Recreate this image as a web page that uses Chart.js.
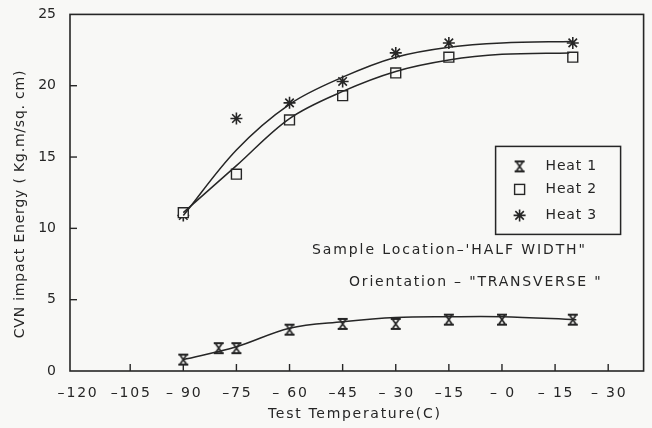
<!DOCTYPE html>
<html>
<head>
<meta charset="utf-8">
<script src="https://cdn.jsdelivr.net/npm/chart.js@4.4.0/dist/chart.umd.min.js"></script>
<style>
    html, body { margin: 0; padding: 0; background: #f8f8f6; }
</style>
</head>
<body>
<canvas id="impactChart" width="652" height="428"></canvas>
<script>
// measured points
const heat1Temps = [-90, -80, -75, -60, -45, -30, -15, 0, 20];
const heat1Values = [0.8, 1.6, 1.6, 2.9, 3.3, 3.3, 3.6, 3.6, 3.6];
const heat23Temps = [-90, -75, -60, -45, -30, -15, 20];
const heat2Values = [11.1, 13.8, 17.6, 19.3, 20.9, 22.0, 22.0];
const heat3Values = [10.9, 17.7, 18.8, 20.3, 22.3, 23.0, 23.0];

// hand drawn trend curves
const fit1Temps = [-90, -75, -60, -45, -30, -15, 0, 21];
const fit1Values = [0.8, 1.7, 3.0, 3.45, 3.75, 3.8, 3.8, 3.6];
const fit2Temps = [-90, -75, -60, -45, -30, -15, 0, 19];
const fit2Values = [11.1, 14.4, 17.7, 19.6, 21.0, 21.8, 22.2, 22.3];
const fit3Temps = [-90, -75, -60, -45, -30, -15, 0, 20];
const fit3Values = [10.9, 15.5, 18.7, 20.6, 22.0, 22.7, 23.0, 23.1];

// axes
const xTickValues = [-120, -105, -90, -75, -60, -45, -30, -15, 0, 15, 30];
const xTickLabels = ['–120', '–105', '– 90', '–75', '– 60', '–45', '– 30', '–15', '– 0', '– 15', '– 30'];
const yTickValues = [0, 5, 10, 15, 20, 25];
const seriesNames = ['Heat 1', 'Heat 2', 'Heat 3'];

const ink = '#262626';
const fontFamily = '"DejaVu Sans", sans-serif';

function toPoints(xs, ys) {
    return xs.map((x, i) => ({ x: x, y: ys[i] }));
}

// hourglass marker for Heat 1
function makeHourglass() {
    const c = document.createElement('canvas');
    c.width = 12;
    c.height = 14;
    const g = c.getContext('2d');
    g.strokeStyle = ink;
    g.lineWidth = 2;
    g.beginPath();
    g.moveTo(1, 2); g.lineTo(11, 2);
    g.moveTo(1, 12); g.lineTo(11, 12);
    g.stroke();
    g.lineWidth = 1.7;
    g.beginPath();
    g.moveTo(2.5, 2); g.lineTo(9.5, 12);
    g.moveTo(9.5, 2); g.lineTo(2.5, 12);
    g.stroke();
    return c;
}
const hourglass = makeHourglass();

function drawStar(ctx, cx, cy, r) {
    ctx.beginPath();
    for (let k = 0; k < 4; k++) {
        const a = k * Math.PI / 4;
        ctx.moveTo(cx - r * Math.cos(a), cy - r * Math.sin(a));
        ctx.lineTo(cx + r * Math.cos(a), cy + r * Math.sin(a));
    }
    ctx.stroke();
}

function spacedText(ctx, text, x, y, spacing) {
    ctx.letterSpacing = spacing + 'px';
    ctx.fillText(text, x, y);
    ctx.letterSpacing = '0px';
}

const decorPlugin = {
    id: 'decor',
    beforeDraw(chart) {
        const ctx = chart.ctx;
        ctx.save();
        ctx.fillStyle = '#f8f8f6';
        ctx.fillRect(0, 0, chart.width, chart.height);
        ctx.restore();
    },
    afterDatasetsDraw(chart) {
        const { ctx, chartArea: a, scales: { x, y } } = chart;
        ctx.save();
        ctx.strokeStyle = ink;
        ctx.fillStyle = ink;

        // frame
        ctx.lineWidth = 1.6;
        ctx.strokeRect(a.left, a.top, a.right - a.left, a.bottom - a.top);

        // inward tick marks
        ctx.lineWidth = 1.4;
        x.ticks.forEach(t => {
            const px = x.getPixelForValue(t.value);
            if (px - a.left < 10) return;
            ctx.beginPath();
            ctx.moveTo(px, a.bottom);
            ctx.lineTo(px, a.bottom - 7);
            ctx.stroke();
        });
        y.ticks.forEach(t => {
            const py = y.getPixelForValue(t.value);
            if (py - a.top < 5 || a.bottom - py < 5) return;
            ctx.beginPath();
            ctx.moveTo(a.left, py);
            ctx.lineTo(a.left + 7, py);
            ctx.stroke();
        });

        // x tick labels and title
        ctx.font = '14px ' + fontFamily;
        ctx.textAlign = 'center';
        ctx.textBaseline = 'middle';
        xTickValues.forEach((v, i) => {
            spacedText(ctx, xTickLabels[i], x.getPixelForValue(v) + 1, a.bottom + 22, 1.8);
        });
        spacedText(ctx, 'Test Temperature(C)', (a.left + a.right) / 2 - 2, a.bottom + 43, 1.7);

        // y title
        ctx.save();
        ctx.translate(20, 204);
        ctx.rotate(-Math.PI / 2);
        ctx.font = '14px ' + fontFamily;
        spacedText(ctx, 'CVN impact Energy ( Kg.m/sq. cm)', 0, 0, 0.8);
        ctx.restore();

        // legend box
        const lx = a.right - 148, ly = a.top + 132;
        ctx.lineWidth = 1.5;
        ctx.strokeRect(lx, ly, 125, 88);
        ctx.font = '14px ' + fontFamily;
        ctx.textAlign = 'left';
        const rows = [20, 43, 69];
        ctx.drawImage(hourglass, lx + 24 - 6, ly + rows[0] - 7);
        ctx.lineWidth = 1.4;
        ctx.strokeRect(lx + 24 - 5, ly + rows[1] - 5, 10, 10);
        ctx.lineWidth = 1.6;
        drawStar(ctx, lx + 24, ly + rows[2], 6);
        seriesNames.forEach((name, i) => {
            spacedText(ctx, name, lx + 50, ly + rows[i], 0.8);
        });

        // notes
        spacedText(ctx, 'Sample Location–\'HALF WIDTH"', a.left + 242, a.top + 236, 1.9);
        spacedText(ctx, 'Orientation – "TRANSVERSE "', a.left + 279, a.top + 268, 1.8);

        ctx.restore();
    }
};

const curveStyle = {
    showLine: true,
    pointRadius: 0,
    borderColor: ink,
    borderWidth: 1.5,
    tension: 0.35,
    fill: false
};

new Chart(document.getElementById('impactChart'), {
    type: 'scatter',
    data: {
        datasets: [
            { label: 'fit1', data: toPoints(fit1Temps, fit1Values), ...curveStyle },
            { label: 'fit2', data: toPoints(fit2Temps, fit2Values), ...curveStyle },
            { label: 'fit3', data: toPoints(fit3Temps, fit3Values), ...curveStyle },
            {
                label: seriesNames[0],
                data: toPoints(heat1Temps, heat1Values),
                pointStyle: hourglass
            },
            {
                label: seriesNames[1],
                data: toPoints(heat23Temps, heat2Values),
                pointStyle: 'rect',
                pointRadius: 7,
                borderColor: ink,
                borderWidth: 1.4,
                backgroundColor: 'rgba(248,248,246,1)'
            },
            {
                label: seriesNames[2],
                data: toPoints(heat23Temps, heat3Values),
                pointStyle: 'star',
                pointRadius: 6,
                borderColor: ink,
                borderWidth: 1.6,
                backgroundColor: ink
            }
        ]
    },
    options: {
        responsive: false,
        animation: false,
        devicePixelRatio: 1,
        events: [],
        layout: { padding: { top: 14, right: 5, left: 0, bottom: 0 } },
        plugins: {
            legend: { display: false },
            tooltip: { enabled: false }
        },
        scales: {
            x: {
                type: 'linear',
                min: -122,
                max: 40,
                afterBuildTicks: scale => {
                    scale.ticks = xTickValues.map(v => ({ value: v }));
                },
                afterFit: scale => { scale.height = 57; },
                grid: { display: false },
                border: { display: false },
                ticks: { display: false }
            },
            y: {
                min: 0,
                max: 25,
                afterBuildTicks: scale => {
                    scale.ticks = yTickValues.map(v => ({ value: v }));
                },
                afterFit: scale => { scale.width = 70; },
                grid: { display: false },
                border: { display: false },
                ticks: {
                    color: ink,
                    font: { family: fontFamily, size: 14 },
                    padding: 6
                }
            }
        }
    },
    plugins: [decorPlugin]
});
</script>
</body>
</html>
